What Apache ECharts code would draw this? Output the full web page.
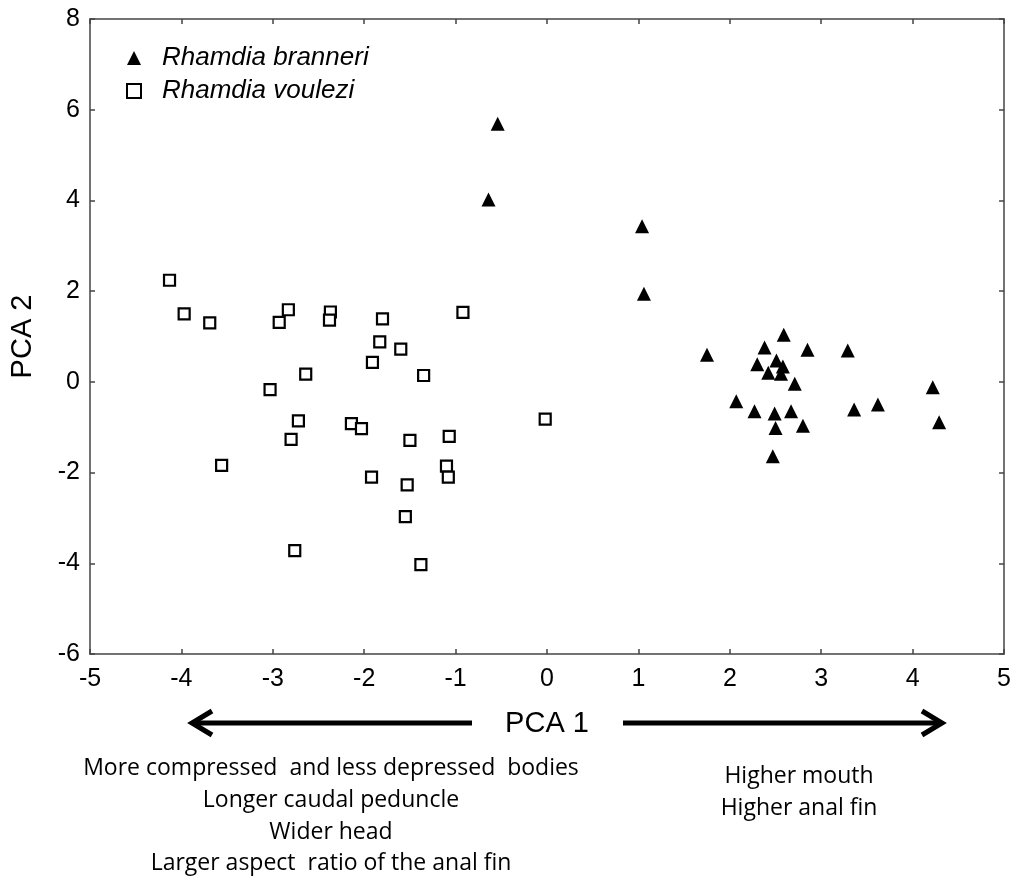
<!DOCTYPE html>
<html>
<head>
<meta charset="utf-8">
<script src="https://cdn.jsdelivr.net/npm/echarts@6/dist/echarts.min.js"></script>
<style>
html,body{margin:0;padding:0;background:#fff;}
#chart{width:1014px;height:879px;}
</style>
</head>
<body>
<div id="chart"></div>
<script>
// Rhamdia voulezi (open squares)
const voulezX = [-4.13,-3.97,-3.69,-2.93,-2.83,-2.37,-2.38,-1.80,-0.92,-1.83,-1.60,-1.91,-2.64,-1.35,-3.03,-2.72,-2.14,-2.03,-2.80,-1.50,-1.07,-3.56,-1.10,-1.08,-1.92,-1.53,-1.55,-2.76,-1.38,-0.02];
const voulezY = [2.24,1.50,1.30,1.31,1.59,1.54,1.36,1.39,1.53,0.88,0.72,0.43,0.17,0.14,-0.17,-0.86,-0.92,-1.03,-1.27,-1.29,-1.20,-1.84,-1.86,-2.10,-2.10,-2.27,-2.97,-3.72,-4.03,-0.82];
// Rhamdia branneri (filled triangles)
const branX = [-0.54,-0.64,1.04,1.06,1.75,2.59,2.38,2.85,3.29,2.30,2.51,2.58,2.42,2.56,2.71,4.22,2.07,3.62,2.27,2.67,3.36,2.49,2.80,4.29,2.50,2.47];
const branY = [5.69,4.02,3.43,1.94,0.60,1.04,0.76,0.71,0.69,0.39,0.47,0.34,0.20,0.18,-0.04,-0.12,-0.43,-0.50,-0.65,-0.65,-0.61,-0.70,-0.97,-0.89,-1.02,-1.64];
const seriesNames = ['Rhamdia branneri', 'Rhamdia voulezi'];
const xTicks = {min: -5, max: 5, interval: 1};
const yTicks = {min: -6, max: 8, interval: 2};
const leftNotes = ['More compressed  and less depressed  bodies', 'Longer caudal peduncle', 'Wider head', 'Larger aspect  ratio of the anal fin'];
const rightNotes = ['Higher mouth', 'Higher anal fin'];

const branData = branX.map((x, i) => [x, branY[i]]);
const voulezData = voulezX.map((x, i) => [x, voulezY[i]]);

const axisColor = '#444';
const font = 'Liberation Sans, Arial, sans-serif';
const noteFont = 'Open Sans, sans-serif';

function xAxisCfg(pos, showLabels) {
  return {
    type: 'value', position: pos, min: xTicks.min, max: xTicks.max, interval: xTicks.interval,
    splitLine: {show: false},
    axisLine: {show: true, onZero: false, lineStyle: {color: axisColor, width: 1.5}},
    axisTick: {show: true, inside: true, length: 5, lineStyle: {color: axisColor, width: 1.5}},
    axisLabel: {show: showLabels, color: '#000', fontSize: 25, fontFamily: font, margin: 13},
    name: showLabels ? 'PCA 1' : '', nameLocation: 'middle', nameGap: 55,
    nameTextStyle: {color: '#000', fontSize: 29, fontFamily: font}
  };
}
function yAxisCfg(pos, showLabels) {
  return {
    type: 'value', position: pos, min: yTicks.min, max: yTicks.max, interval: yTicks.interval,
    splitLine: {show: false},
    axisLine: {show: true, onZero: false, lineStyle: {color: axisColor, width: 1.5}},
    axisTick: {show: true, inside: true, length: 5, lineStyle: {color: axisColor, width: 1.5}},
    axisLabel: {show: showLabels, color: '#000', fontSize: 25, fontFamily: font, margin: 10},
    name: showLabels ? 'PCA 2' : '', nameLocation: 'middle', nameGap: 53, nameRotate: 90,
    nameTextStyle: {color: '#000', fontSize: 29, fontFamily: font}
  };
}

const graphics = [];
// arrows
graphics.push({type: 'line', shape: {x1: 472, y1: 723, x2: 194, y2: 723}, style: {stroke: '#000', lineWidth: 5}});
graphics.push({type: 'polyline', shape: {points: [[212, 711], [192, 723], [212, 735]]}, style: {stroke: '#000', lineWidth: 5, fill: null, lineJoin: 'miter'}});
graphics.push({type: 'line', shape: {x1: 623, y1: 723, x2: 940, y2: 723}, style: {stroke: '#000', lineWidth: 5}});
graphics.push({type: 'polyline', shape: {points: [[922, 711], [942, 723], [922, 735]]}, style: {stroke: '#000', lineWidth: 5, fill: null, lineJoin: 'miter'}});
const leftYs = [768, 800, 832, 863];
leftNotes.forEach((t, i) => graphics.push({type: 'text', x: 331, y: leftYs[i], style: {text: t, fill: '#000', font: '23px ' + noteFont, textAlign: 'center', textVerticalAlign: 'middle'}}));
const rightYs = [776, 808];
rightNotes.forEach((t, i) => graphics.push({type: 'text', x: 799, y: rightYs[i], style: {text: t, fill: '#000', font: '23px ' + noteFont, textAlign: 'center', textVerticalAlign: 'middle'}}));

const chart = echarts.init(document.getElementById('chart'));
chart.setOption({
  backgroundColor: '#fff',
  animation: false,
  grid: {left: 89, top: 19, right: 9, bottom: 225, containLabel: false},
  legend: {
    orient: 'vertical', left: 121, top: 40, itemWidth: 14, itemHeight: 14, itemGap: 7,
    data: seriesNames,
    textStyle: {color: '#000', fontSize: 26, fontStyle: 'italic', fontFamily: font, padding: [0, 0, 0, 16]}
  },
  xAxis: [xAxisCfg('bottom', true), xAxisCfg('top', false)],
  yAxis: [yAxisCfg('left', true), yAxisCfg('right', false)],
  series: [
    {name: seriesNames[0], type: 'scatter', symbol: 'triangle', symbolSize: 14, data: branData,
     itemStyle: {color: '#000', opacity: 1}},
    {name: seriesNames[1], type: 'scatter', symbol: 'rect', symbolSize: 11, data: voulezData,
     itemStyle: {color: '#fff', borderColor: '#000', borderWidth: 2.2, opacity: 1}}
  ],
  graphic: graphics
});
</script>
</body>
</html>
